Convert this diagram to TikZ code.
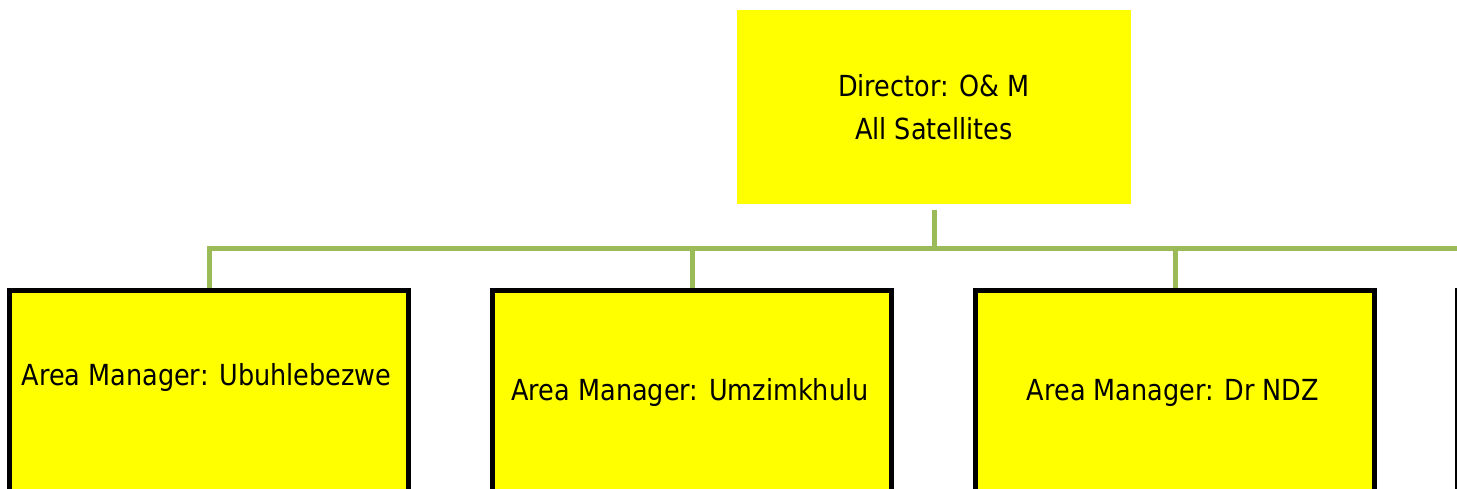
\documentclass[tikz,border=0pt]{standalone}
\usepackage{fontspec}
\setmainfont[FakeStretch=0.88]{DejaVu Sans}
\definecolor{boxyellow}{HTML}{FFFF00}
\definecolor{linkgreen}{HTML}{9BBB59}
\begin{document}
\begin{tikzpicture}[x=1pt,y=-1pt,
  topbox/.style={fill=boxyellow, draw=none, inner sep=0pt, outer sep=0pt,
    minimum width=394pt, minimum height=194pt, align=center,
    font=\fontsize{29}{43}\selectfont},
  areabox/.style={fill=boxyellow, draw=black, line width=5pt, inner sep=0pt,
    minimum width=399pt, minimum height=260pt, anchor=north west},
  boxtext/.style={anchor=base, inner sep=0pt, font=\fontsize{29}{35}\selectfont},
  link/.style={draw=linkgreen, line width=5pt}]
\useasboundingbox (0,0) rectangle (1457,489);
\clip (0,0) rectangle (1457,489);

% director box
\node[topbox] (dir) at (934,107) {Director: O\& M\\All Satellites};

% area manager boxes (running past the lower edge)
\node[areabox] (a1) at (7,288) {};
\node[areabox] (a2) at (490,288) {};
\node[areabox] (a3) at (973,288) {};
\node[areabox] (a4) at (1455,288) {};

\node[boxtext] (t1) at (206.5,385) {Area Manager: Ubuhlebezwe};
\node[boxtext] (t2) at (690,400) {Area Manager: Umzimkhulu};
\node[boxtext] (t3) at (1173,400) {Area Manager: Dr NDZ};

% connectors
\coordinate (busR) at (1457,249);
\draw[link] (dir.south) ++(0,6) -- (dir.south |- busR);
\draw[link] (a1.north) |- (busR);
\draw[link] (a2.north) -- (a2.north |- busR);
\draw[link] (a3.north) -- (a3.north |- busR);
\end{tikzpicture}
\end{document}
